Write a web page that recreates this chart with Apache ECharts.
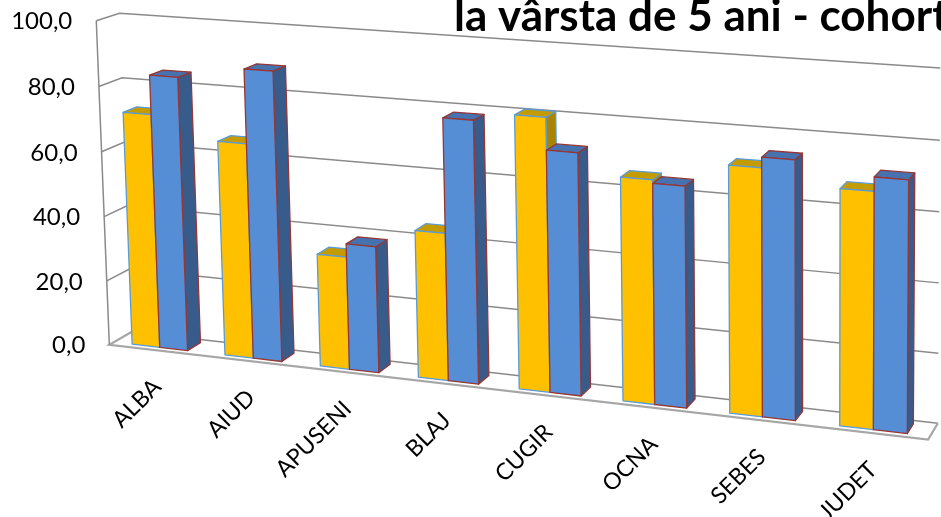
<!DOCTYPE html>
<html><head><meta charset="utf-8">
<script src="https://cdn.jsdelivr.net/npm/echarts@6/dist/echarts.min.js"></script>
<style>html,body{margin:0;padding:0;background:#fff}#c{width:941px;height:517px}</style>
</head><body><div id="c"></div>
<script>
// ---- data ----
const categories = ['ALBA', 'AIUD', 'APUSENI', 'BLAJ', 'CUGIR', 'OCNA', 'SEBES', 'JUDET'];
const seriesYellow = [72, 65.5, 34, 44, 80.5, 65, 71, 67];
const seriesBlue = [84, 88, 38, 78, 71, 64, 74, 71];
const yTicks = [0, 20, 40, 60, 80, 100];
const titleText = 'la vârsta de 5 ani - cohorta';

// ---- camera calibration (frame of the 3D plot: x = category axis 0..1, y = value 0..1, z = depth 0 front .. 1 back) ----
const CAMERA_REFS = [
  [0, 0, 0, 109, 344], [0, 1, 0, 95, 20], [0, 0.8, 0, 100, 87], [0, 0.6, 0, 102, 153],
  [0, 0, 1, 132, 332], [0, 1, 1, 120, 12], [0, 0.8, 1, 123, 78], [0, 0.6, 1, 123, 143],
  [1, 0, 0, 928, 440], [1, 0, 1, 938, 423], [1, 1, 1, 940, 68],
  [0.25, 0, 0, 297, 366], [0.5, 0, 0, 495, 389], [0.75, 0, 0, 706, 414]
];
function fitCamera(refs) {
  const n = 11, M = Array.from({length: n}, () => new Array(n + 1).fill(0));
  const add = (row, b) => { for (let i = 0; i < n; i++) { for (let j = 0; j < n; j++) M[i][j] += row[i] * row[j]; M[i][n] += row[i] * b; } };
  refs.forEach(([X, Y, Z, u0, v0]) => {
    const u = u0 / 1000, v = v0 / 1000;
    add([X, Y, Z, 1, 0, 0, 0, 0, -u * X, -u * Y, -u * Z], u);
    add([0, 0, 0, 0, X, Y, Z, 1, -v * X, -v * Y, -v * Z], v);
  });
  for (let c = 0; c < n; c++) {
    let piv = c;
    for (let r = c + 1; r < n; r++) if (Math.abs(M[r][c]) > Math.abs(M[piv][c])) piv = r;
    const t = M[c]; M[c] = M[piv]; M[piv] = t;
    for (let r = 0; r < n; r++) {
      if (r === c) continue;
      const f = M[r][c] / M[c][c];
      for (let k = c; k <= n; k++) M[r][k] -= f * M[c][k];
    }
  }
  return M.map((row, i) => row[n] / row[i]);
}
const CAM = fitCamera(CAMERA_REFS);
function project(x, y, z) {
  const p = CAM, w = p[8] * x + p[9] * y + p[10] * z + 1;
  return [1000 * (p[0] * x + p[1] * y + p[2] * z + p[3]) / w, 1000 * (p[4] * x + p[5] * y + p[6] * z + p[7]) / w];
}

const BAR_Z0 = 0.2, BAR_Z1 = 0.8;
const FONT = 'Lato, "Open Sans", sans-serif';

function norm(cs, pt) { return [(pt[0] - cs.x) / cs.width, (cs.y + cs.height - pt[1]) / cs.height]; }

function frameRender(params, api) {
  const cs = params.coordSys;
  const v = api.value(1);
  const yn = norm(cs, api.coord([0, v]))[1];
  const children = [];
  const grid = {stroke: '#8a8a8a', lineWidth: 1.5, fill: null};
  const floor = {stroke: '#a6a6a6', lineWidth: 2.2, fill: null};
  if (v === 0) {
    children.push({type: 'polyline', shape: {points: [project(0, 0, 1), project(1, 0, 1)]}, style: grid});
    children.push({type: 'polyline', shape: {points: [project(0, 0, 1), project(0, 0, 0), project(1, 0, 0), project(1, 0, 1)]}, style: floor});
    children.push({type: 'polyline', shape: {points: [project(0, 0, 0), project(0, 1, 0)]}, style: grid});
  } else {
    children.push({type: 'polyline', shape: {points: [project(0, yn, 0), project(0, yn, 1), project(1, yn, 1)]}, style: grid});
  }
  const lp = project(0, yn, 0);
  children.push({type: 'text', x: lp[0] - 24, y: lp[1] + 1, style: {
    text: v.toFixed(1).replace('.', ','), align: 'right', verticalAlign: 'middle',
    fontFamily: FONT, fontSize: 24, fill: '#000'}});
  return {type: 'group', children};
}

function labelRender(params, api) {
  const cs = params.coordSys;
  const idx = api.value(0);
  const xn = norm(cs, api.coord([idx, 0]))[0];
  const p = project(xn, 0, 0);
  return {type: 'text', x: p[0] + 2, y: p[1] + 33, rotation: Math.PI / 4, style: {
    text: categories[idx], align: 'right', verticalAlign: 'middle',
    fontFamily: FONT, fontSize: 23, fill: '#000'}};
}

function barRender(off0, off1, col) {
  return function (params, api) {
    const cs = params.coordSys;
    const i = api.value(0), val = api.value(1);
    const top = api.coord([i, val]), base = api.coord([i, 0]);
    const band = api.size([1, 0])[0];
    const xa = (top[0] - band / 2 + off0 * band - cs.x) / cs.width;
    const xb = (top[0] - band / 2 + off1 * band - cs.x) / cs.width;
    const yh = (base[1] - top[1]) / cs.height;
    const z0 = BAR_Z0, z1 = BAR_Z1;
    const front = [project(xa, 0, z0), project(xb, 0, z0), project(xb, yh, z0), project(xa, yh, z0)];
    const topF = [project(xa, yh, z0), project(xb, yh, z0), project(xb, yh, z1), project(xa, yh, z1)];
    const side = [project(xb, 0, z0), project(xb, 0, z1), project(xb, yh, z1), project(xb, yh, z0)];
    const st = {stroke: col.stroke, lineWidth: 1.3, lineJoin: 'round'};
    return {type: 'group', children: [
      {type: 'polygon', shape: {points: side}, style: Object.assign({fill: col.side}, st)},
      {type: 'polygon', shape: {points: topF}, style: Object.assign({fill: col.top}, st)},
      {type: 'polygon', shape: {points: front}, style: Object.assign({fill: col.front}, st)}
    ]};
  };
}

const chart = echarts.init(document.getElementById('c'), null, {renderer: 'canvas'});
chart.setOption({
  animation: false,
  backgroundColor: '#fff',
  title: {text: titleText, left: 454, top: -5, padding: 0,
    textStyle: {fontFamily: FONT, fontWeight: 'bold', fontSize: 44, color: '#000'}},
  grid: {left: 0, right: 0, top: 0, bottom: 0},
  xAxis: {type: 'category', data: categories, show: false},
  yAxis: {type: 'value', min: 0, max: 100, interval: 20, show: false},
  series: [
    {type: 'custom', name: 'frame', clip: false, z: 1, renderItem: frameRender,
      data: yTicks.map(v => [0, v]), silent: true},
    {type: 'custom', name: 'labels', clip: false, z: 2, renderItem: labelRender,
      data: categories.map((c, i) => [i, 0]), silent: true},
    {type: 'custom', name: 'Seria 1', clip: false, z: 3,
      renderItem: barRender(0.2, 0.5, {front: '#FFC000', top: '#C49C00', side: '#A98400', stroke: '#5B9BD5'}),
      data: seriesYellow.map((v, i) => [i, v])},
    {type: 'custom', name: 'Seria 2', clip: false, z: 4,
      renderItem: barRender(0.5, 0.8, {front: '#558ED5', top: '#4672B0', side: '#375C8C', stroke: '#953735'}),
      data: seriesBlue.map((v, i) => [i, v])}
  ]
});
</script></body></html>
